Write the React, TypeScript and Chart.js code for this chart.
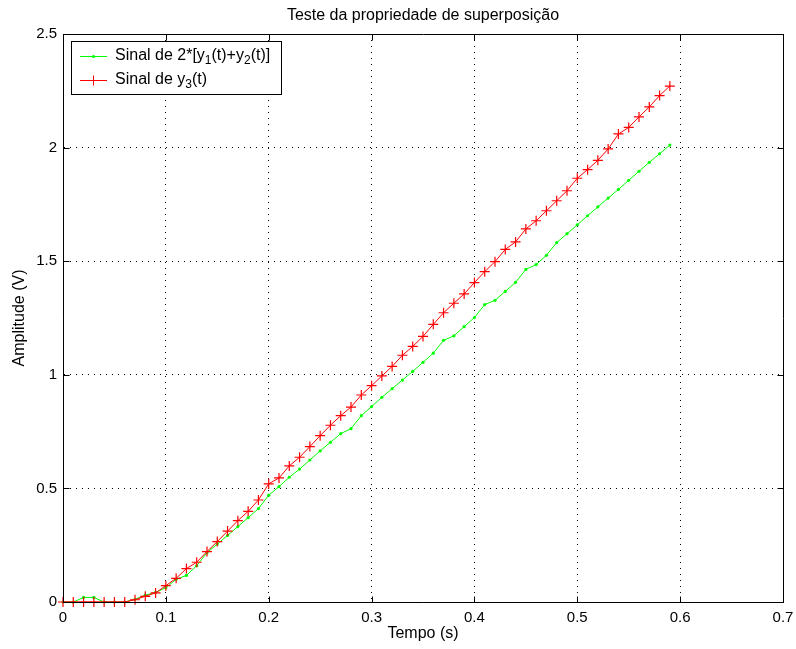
import React, { useEffect, useRef } from "react";
import { Chart, registerables } from "chart.js";

Chart.register(...registerables);

const timeS = [
  0, 0.01, 0.02, 0.03, 0.04, 0.05, 0.06, 0.07, 0.08, 0.09,
  0.1, 0.11, 0.12, 0.13, 0.14, 0.15, 0.16, 0.17, 0.18, 0.19,
  0.2, 0.21, 0.22, 0.23, 0.24, 0.25, 0.26, 0.27, 0.28, 0.29,
  0.3, 0.31, 0.32, 0.33, 0.34, 0.35, 0.36, 0.37, 0.38, 0.39,
  0.4, 0.41, 0.42, 0.43, 0.44, 0.45, 0.46, 0.47, 0.48, 0.49,
  0.5, 0.51, 0.52, 0.53, 0.54, 0.55, 0.56, 0.57, 0.58, 0.59,
];

const sumSignal = [
  0, 0, 0.02, 0.02, 0, 0, 0, 0.012, 0.03, 0.042,
  0.063, 0.1, 0.117, 0.16, 0.217, 0.255, 0.293, 0.332, 0.371, 0.411,
  0.47, 0.508, 0.549, 0.585, 0.625, 0.665, 0.703, 0.741, 0.763, 0.82,
  0.86, 0.901, 0.939, 0.977, 1.015, 1.055, 1.095, 1.152, 1.171, 1.212,
  1.252, 1.309, 1.328, 1.367, 1.407, 1.464, 1.485, 1.526, 1.582, 1.621,
  1.66, 1.7, 1.739, 1.778, 1.816, 1.856, 1.896, 1.935, 1.973, 2.011,
];

const y3Signal = [
  0, 0, 0, 0, 0, 0, 0, 0.01, 0.025, 0.04,
  0.072, 0.104, 0.147, 0.175, 0.222, 0.266, 0.312, 0.358, 0.399, 0.449,
  0.52, 0.546, 0.599, 0.637, 0.684, 0.732, 0.778, 0.82, 0.858, 0.911,
  0.952, 0.995, 1.037, 1.086, 1.125, 1.169, 1.222, 1.273, 1.315, 1.356,
  1.406, 1.454, 1.498, 1.552, 1.585, 1.642, 1.678, 1.722, 1.766, 1.81,
  1.865, 1.903, 1.944, 1.994, 2.06, 2.089, 2.135, 2.179, 2.229, 2.271,
];

const xTicks = [0, 0.1, 0.2, 0.3, 0.4, 0.5, 0.6, 0.7];
const yTicks = [0, 0.5, 1, 1.5, 2, 2.5];

const titleText = "Teste da propriedade de superposição";
const xLabel = "Tempo (s)";
const yLabel = "Amplitude (V)";

// legend text pieces: [text, isSubscript]
const legendSum: [string, boolean][] = [
  ["Sinal de 2*[y", false],
  ["1", true],
  ["(t)+y", false],
  ["2", true],
  ["(t)]", false],
];
const legendY3: [string, boolean][] = [
  ["Sinal de y", false],
  ["3", true],
  ["(t)", false],
];

const FONT = "'Liberation Sans', Arial, Helvetica, sans-serif";
const GREEN = "#00ff00";
const RED = "#ff0000";

function drawPieces(ctx: CanvasRenderingContext2D, pieces: [string, boolean][], x: number, y: number) {
  let cx = x;
  for (const [t, sub] of pieces) {
    ctx.font = sub ? `12px ${FONT}` : `16px ${FONT}`;
    ctx.fillText(t, cx, sub ? y + 5 : y);
    cx += ctx.measureText(t).width;
  }
}

const decorPlugin = {
  id: "decor",
  afterDraw(chart: any) {
    const ctx: CanvasRenderingContext2D = chart.ctx;
    const a = chart.chartArea;
    const xs = chart.scales.x;
    const ys = chart.scales.y;
    ctx.save();
    ctx.strokeStyle = "#000";
    ctx.lineWidth = 1;
    ctx.setLineDash([]);
    const L = Math.round(a.left) + 0.5;
    const R = Math.round(a.right) + 0.5;
    const T = Math.round(a.top) + 0.5;
    const B = Math.round(a.bottom) + 0.5;
    ctx.beginPath();
    ctx.rect(L, T, R - L, B - T);
    ctx.stroke();
    // inward ticks
    const tl = 6;
    ctx.beginPath();
    for (const v of xTicks) {
      const px = Math.round(xs.getPixelForValue(v)) + 0.5;
      ctx.moveTo(px, B);
      ctx.lineTo(px, B - tl);
      ctx.moveTo(px, T);
      ctx.lineTo(px, T + tl);
    }
    for (const v of yTicks) {
      const py = Math.round(ys.getPixelForValue(v)) + 0.5;
      ctx.moveTo(L, py);
      ctx.lineTo(L + tl, py);
      ctx.moveTo(R, py);
      ctx.lineTo(R - tl, py);
    }
    ctx.stroke();

    // titles
    ctx.fillStyle = "#000";
    ctx.textAlign = "center";
    ctx.textBaseline = "middle";
    ctx.font = `16px ${FONT}`;
    const cxp = (a.left + a.right) / 2;
    ctx.fillText(titleText, cxp, 16);
    ctx.fillText(xLabel, cxp, 634);
    ctx.save();
    ctx.translate(20, (a.top + a.bottom) / 2);
    ctx.rotate(-Math.PI / 2);
    ctx.fillText(yLabel, 0, 0);
    ctx.restore();

    // legend
    const bx = 71.5, by = 41.5, bw = 210, bh = 53;
    ctx.fillStyle = "#fff";
    ctx.fillRect(bx, by, bw, bh);
    ctx.strokeStyle = "#000";
    ctx.strokeRect(bx, by, bw, bh);

    const l1y = 56, l2y = 80;
    ctx.lineWidth = 1;
    ctx.strokeStyle = GREEN;
    ctx.beginPath();
    ctx.moveTo(80, l1y + 0.5);
    ctx.lineTo(107, l1y + 0.5);
    ctx.stroke();
    ctx.fillStyle = GREEN;
    ctx.beginPath();
    ctx.arc(93.5, l1y + 0.5, 1.6, 0, Math.PI * 2);
    ctx.fill();

    ctx.strokeStyle = RED;
    ctx.beginPath();
    ctx.moveTo(80, l2y + 0.5);
    ctx.lineTo(107, l2y + 0.5);
    ctx.moveTo(93.5, l2y - 4.5);
    ctx.lineTo(93.5, l2y + 5.5);
    ctx.moveTo(89, l2y + 0.5);
    ctx.lineTo(98, l2y + 0.5);
    ctx.stroke();

    ctx.fillStyle = "#000";
    ctx.textAlign = "left";
    ctx.textBaseline = "middle";
    drawPieces(ctx, legendSum, 115, l1y);
    drawPieces(ctx, legendY3, 115, l2y);
    ctx.restore();
  },
};

export default function App() {
  const ref = useRef<HTMLCanvasElement>(null);
  useEffect(() => {
    document.body.style.margin = "0";
    const canvas = ref.current!;
    const chart = new Chart(canvas, {
      type: "line",
      data: {
        datasets: [
          {
            label: "Sinal de y3(t)",
            data: timeS.map((t, i) => ({ x: t, y: y3Signal[i] })),
            borderColor: RED,
            backgroundColor: RED,
            borderWidth: 1,
            pointStyle: "cross",
            pointRadius: 5,
            pointBorderWidth: 1.2,
            pointBorderColor: RED,
            tension: 0,
            clip: false as any,
            order: 0,
          },
          {
            label: "Sinal de 2*[y1(t)+y2(t)]",
            data: timeS.map((t, i) => ({ x: t, y: sumSignal[i] })),
            borderColor: GREEN,
            backgroundColor: GREEN,
            borderWidth: 1,
            pointStyle: "circle",
            pointRadius: 1.6,
            pointBorderWidth: 0,
            pointBackgroundColor: GREEN,
            tension: 0,
            clip: false as any,
            order: 1,
          },
        ],
      },
      options: {
        responsive: false,
        animation: false,
        devicePixelRatio: 1,
        layout: { padding: { left: 0, top: 34, right: 13, bottom: 0 } },
        plugins: {
          legend: { display: false },
          title: { display: false },
          tooltip: { enabled: false },
        },
        scales: {
          x: {
            type: "linear",
            min: 0,
            max: 0.7,
            afterBuildTicks: (s: any) => {
              s.ticks = xTicks.map((v) => ({ value: v }));
            },
            afterFit: (s: any) => {
              s.height = 47;
              s.paddingLeft = 0;
              s.paddingRight = 0;
            },
            ticks: {
              color: "#000",
              font: { family: FONT, size: 15 },
              padding: 7,
              maxRotation: 0,
              autoSkip: false,
              callback: (v: any) => String(Number(Number(v).toFixed(1))),
            },
            grid: { color: "#000", lineWidth: 1, drawTicks: false },
            border: { display: true, color: "#000", width: 1, dash: [1, 5] },
          },
          y: {
            type: "linear",
            min: 0,
            max: 2.5,
            afterBuildTicks: (s: any) => {
              s.ticks = yTicks.map((v) => ({ value: v }));
            },
            afterFit: (s: any) => {
              s.width = 63;
              s.paddingTop = 0;
              s.paddingBottom = 0;
            },
            ticks: {
              color: "#000",
              font: { family: FONT, size: 15 },
              padding: 6,
              autoSkip: false,
              callback: (v: any) => String(Number(Number(v).toFixed(1))),
            },
            grid: { color: "#000", lineWidth: 1, drawTicks: false },
            border: { display: true, color: "#000", width: 1, dash: [1, 5] },
          },
        },
      },
      plugins: [decorPlugin],
    });
    return () => chart.destroy();
  }, []);
  return (
    <div style={{ position: "absolute", left: 0, top: 0, width: 796, height: 649, background: "#fff" }}>
      <canvas ref={ref} width={796} height={649} style={{ display: "block" }} />
    </div>
  );
}
